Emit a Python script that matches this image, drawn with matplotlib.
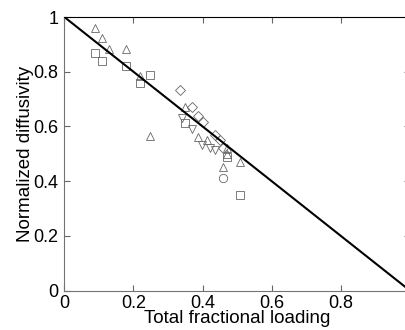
import matplotlib
matplotlib.use("Agg")
from matplotlib import pyplot as plt

# data (x: total fractional loading, y: normalized diffusivity)
tri_up_x = [0.089, 0.110, 0.129, 0.179, 0.219, 0.249, 0.349, 0.388, 0.412, 0.470, 0.470, 0.460, 0.509]
tri_up_y = [0.961, 0.922, 0.882, 0.882, 0.783, 0.564, 0.672, 0.562, 0.550, 0.520, 0.500, 0.453, 0.471]
square_x = [0.090, 0.109, 0.179, 0.219, 0.248, 0.349, 0.470, 0.509]
square_y = [0.869, 0.839, 0.821, 0.758, 0.789, 0.611, 0.489, 0.349]
diamond_x = [0.335, 0.369, 0.388, 0.402, 0.436, 0.451, 0.460]
diamond_y = [0.733, 0.672, 0.638, 0.617, 0.569, 0.550, 0.520]
tri_down_x = [0.340, 0.369, 0.398, 0.422, 0.436]
tri_down_y = [0.630, 0.589, 0.532, 0.520, 0.513]
circle_x = [0.458]
circle_y = [0.410]

fit_x = [0.0, 1.0]
fit_y = [1.0, 0.0]

plt.rcParams["font.family"] = ["Liberation Sans", "DejaVu Sans"]

fig = plt.figure(figsize=(4.05, 3.3), dpi=100)
ax = fig.add_axes([64.3 / 405, 1 - 290.5 / 330, 345.5 / 405, 273.5 / 330])

style = dict(linestyle="none", markerfacecolor="none", markeredgecolor="0.4",
             markersize=6, markeredgewidth=0.6)
ax.plot(tri_up_x, tri_up_y, marker="^", **style)
ax.plot(square_x, square_y, marker="s", **style)
ax.plot(diamond_x, diamond_y, marker="D", **dict(style, markersize=5))
ax.plot(tri_down_x, tri_down_y, marker="v", **style)
ax.plot(circle_x, circle_y, marker="o", **style)
ax.plot(fit_x, fit_y, color="black", linewidth=1.5)

ax.set_xlim(0, 1)
ax.set_ylim(0, 1)
ax.set_xticks([0, 0.2, 0.4, 0.6, 0.8])
ax.set_xticklabels(["0", "0.2", "0.4", "0.6", "0.8"])
ax.set_yticks([0, 0.2, 0.4, 0.6, 0.8, 1.0])
ax.set_yticklabels(["0", "0.2", "0.4", "0.6", "0.8", "1"])
ax.tick_params(direction="in", length=4, width=0.8, labelsize=13,
               top=True, right=True, color="0.4")
ax.tick_params(axis="x", pad=3)
ax.tick_params(axis="y", pad=4)

for side in ["left", "bottom"]:
    ax.spines[side].set_color("0.45")
ax.spines["top"].set_color("black")
ax.spines["right"].set_visible(False)

ax.set_xlabel("Total fractional loading", fontsize=13.5, labelpad=-1)
ax.set_ylabel("Normalized diffusivity", fontsize=13.5, labelpad=0)

fig.savefig("out.png", dpi=100)
